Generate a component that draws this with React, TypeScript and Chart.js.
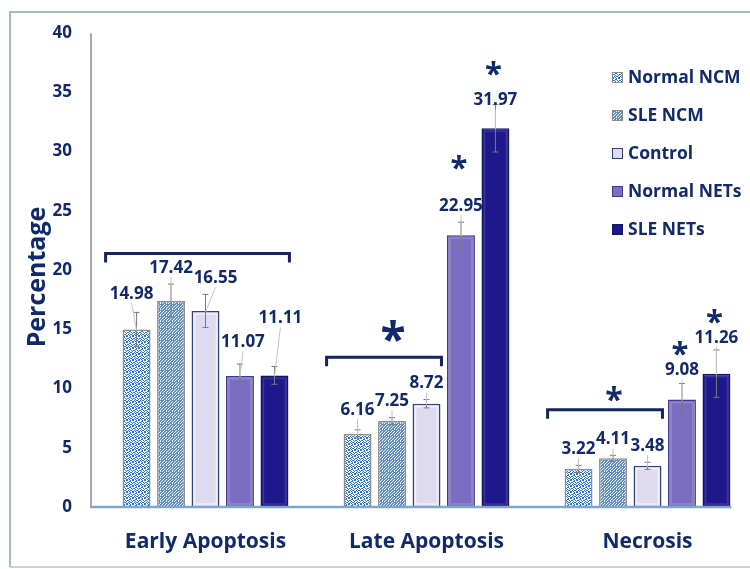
import React, { useEffect, useRef } from "react";
import { Chart, registerables } from "chart.js";

Chart.register(...registerables);

// ---- data ----
const categories = ["Early Apoptosis", "Late Apoptosis", "Necrosis"];
const seriesNames = ["Normal NCM", "SLE NCM", "Control", "Normal NETs", "SLE NETs"];

const normalNcm = [14.98, 6.16, 3.22];
const sleNcm = [17.42, 7.25, 4.11];
const control = [16.55, 8.72, 3.48];
const normalNets = [11.07, 22.95, 9.08];
const sleNets = [11.11, 31.97, 11.26];

const normalNcmErr = [1.45, 0.35, 0.3];
const sleNcmErr = [1.4, 0.3, 0.25];
const controlErr = [1.4, 0.35, 0.3];
const normalNetsErr = [1.0, 1.1, 1.35];
const sleNetsErr = [0.75, 2.0, 2.0];

const yMin = 0;
const yMax = 40;
const yStep = 5;

// significance brackets over groups of bars (level in percentage units)
const groupBrackets = [
  { category: 0, first: 0, last: 4, level: 21.4, starLevel: null as number | null },
  { category: 1, first: 0, last: 2, level: 12.65, starLevel: 14.9 },
  { category: 2, first: 0, last: 2, level: 8.2, starLevel: 9.6 },
];

// single significance stars above bars
const barStars = [
  { category: 1, series: 3, level: 29.2 },
  { category: 1, series: 4, level: 37.2 },
  { category: 2, series: 3, level: 13.5 },
  { category: 2, series: 4, level: 16.2 },
];

// ---- styling ----
const NAVY = "#12296b";
const FONT = "'Open Sans', 'Noto Sans', sans-serif";

// small nudges of value labels so neighbours do not collide: "series:category" -> [dx, dy]
const labelNudge: Record<string, [number, number]> = {
  "0:0": [-5, -2],
  "2:0": [10, 0],
  "3:0": [3, -6],
  "4:0": [6, -32],
  "0:1": [0, -4],
  "4:1": [0, 12],
  "3:2": [0, 3],
  "4:2": [0, 4],
};

function makeTile(bg: string, fg: string, rows: string[]): CanvasPattern | string {
  const size = rows.length;
  const c = document.createElement("canvas");
  c.width = size;
  c.height = size;
  const g = c.getContext("2d");
  if (!g) return bg;
  g.fillStyle = bg;
  g.fillRect(0, 0, size, size);
  g.fillStyle = fg;
  rows.forEach((row, y) => {
    for (let x = 0; x < row.length; x++) {
      if (row[x] === "#") g.fillRect(x, y, 1, 1);
    }
  });
  return g.createPattern(c, "repeat") || bg;
}

export default function App() {
  const ref = useRef<HTMLCanvasElement | null>(null);

  useEffect(() => {
    const canvas = ref.current;
    if (!canvas) return;

    const ncmPattern = makeTile("#f3f7fd", "#2f72c6", [
      "##..#.",
      "...##.",
      ".##..#",
      "#..#..",
      "..#.##",
      "##.#..",
    ]);
    const sleNcmPattern = makeTile("#5f8bc6", "#eef3fb", [
      "#..#..",
      "..#..#",
      ".#..#.",
      "#...#.",
      "..#...",
      ".#..#.",
    ]);

    const values = [normalNcm, sleNcm, control, normalNets, sleNets];
    const errors = [normalNcmErr, sleNcmErr, controlErr, normalNetsErr, sleNetsErr];
    const fills = [ncmPattern, sleNcmPattern, "#dedbf0", "#7a6dc2", "#1f188c"];
    const borders = ["#8d8d8d", "#8d8d8d", "#34427c", "#3d3a8e", "#141660"];
    const sheens = ["rgba(255,255,255,0)", "rgba(255,255,255,0)", "rgba(255,255,255,0.55)", "rgba(255,255,255,0.18)", "rgba(255,255,255,0.12)"];

    const decorations = {
      id: "decorations",
      beforeDraw(chart: any) {
        const ctx = chart.ctx;
        ctx.save();
        // outer frame
        ctx.strokeStyle = "#a8b8cd";
        ctx.lineWidth = 2;
        ctx.beginPath();
        ctx.moveTo(10, 567);
        ctx.lineTo(10, 12);
        ctx.lineTo(chart.width, 12);
        ctx.stroke();
        ctx.strokeStyle = "#cfcfcf";
        ctx.beginPath();
        ctx.moveTo(10, 567);
        ctx.lineTo(chart.width, 567);
        ctx.stroke();

        // axis title
        ctx.fillStyle = NAVY;
        ctx.font = `bold 25px ${FONT}`;
        ctx.textAlign = "center";
        ctx.textBaseline = "middle";
        ctx.translate(38, 277);
        ctx.rotate(-Math.PI / 2);
        ctx.fillText("Percentage", 0, 0);
        ctx.restore();
      },
      afterDatasetsDraw(chart: any) {
        const ctx = chart.ctx;
        const y = chart.scales.y;
        const area = chart.chartArea;
        ctx.save();

        // soft bevel highlight inside the solid bars
        values.forEach((_, si) => {
          const meta = chart.getDatasetMeta(si);
          meta.data.forEach((bar: any) => {
            const h = bar.base - bar.y;
            if (h < 8) return;
            ctx.strokeStyle = sheens[si];
            ctx.lineWidth = 1.5;
            ctx.strokeRect(bar.x - bar.width / 2 + 3, bar.y + 3, bar.width - 6, h - 6);
          });
        });

        // axis lines
        ctx.strokeStyle = "#8a8a8a";
        ctx.lineWidth = 1.5;
        ctx.beginPath();
        ctx.moveTo(area.left - 4, area.top);
        ctx.lineTo(area.left - 4, area.bottom);
        ctx.stroke();
        ctx.strokeStyle = "#7fa6c8";
        ctx.lineWidth = 2.5;
        ctx.beginPath();
        ctx.moveTo(area.left - 5, area.bottom);
        const lastMeta = chart.getDatasetMeta(values.length - 1);
        const lastBar = lastMeta.data[categories.length - 1];
        ctx.lineTo(lastBar.x + lastBar.width / 2 + 1, area.bottom);
        ctx.stroke();

        values.forEach((series, si) => {
          const meta = chart.getDatasetMeta(si);
          meta.data.forEach((bar: any, ci: number) => {
            const v = series[ci];
            const e = errors[si][ci];
            const top = y.getPixelForValue(v + e);
            const bot = y.getPixelForValue(v - e);
            // error bar
            ctx.strokeStyle = "#7a7a7a";
            ctx.lineWidth = 1;
            ctx.beginPath();
            ctx.moveTo(bar.x, top);
            ctx.lineTo(bar.x, bot);
            ctx.moveTo(bar.x - 3, top);
            ctx.lineTo(bar.x + 3, top);
            ctx.moveTo(bar.x - 3, bot);
            ctx.lineTo(bar.x + 3, bot);
            ctx.stroke();

            // value label with leader line
            const nudge = labelNudge[`${si}:${ci}`] || [0, 0];
            const lx = bar.x + nudge[0];
            const ly = top - 16 + nudge[1];
            ctx.strokeStyle = "#c4c4c4";
            ctx.lineWidth = 1;
            ctx.beginPath();
            ctx.moveTo(lx, ly + 9);
            ctx.lineTo(bar.x, bar.y + 1);
            ctx.stroke();
            ctx.fillStyle = NAVY;
            ctx.font = `bold 17px ${FONT}`;
            ctx.textAlign = "center";
            ctx.textBaseline = "middle";
            ctx.fillText(v.toFixed(2), lx, ly);
          });
        });
        ctx.restore();
      },
      afterDraw(chart: any) {
        const ctx = chart.ctx;
        const y = chart.scales.y;
        ctx.save();

        const star = (x: number, cy: number, size: number) => {
          ctx.font = `bold ${size}px ${FONT}`;
          ctx.textAlign = "center";
          ctx.textBaseline = "alphabetic";
          ctx.fillStyle = NAVY;
          ctx.fillText("*", x, cy + size * 0.56);
        };

        groupBrackets.forEach((b) => {
          const a = chart.getDatasetMeta(b.first).data[b.category];
          const z = chart.getDatasetMeta(b.last).data[b.category];
          const x0 = a.x - a.width / 2 - 17;
          const x1 = z.x + z.width / 2 + 1;
          const by = y.getPixelForValue(b.level);
          ctx.strokeStyle = "#15245f";
          ctx.lineWidth = 3;
          ctx.lineJoin = "miter";
          ctx.beginPath();
          ctx.moveTo(x0, by + 9);
          ctx.lineTo(x0, by);
          ctx.lineTo(x1, by);
          ctx.lineTo(x1, by + 9);
          ctx.stroke();
          if (b.starLevel !== null) {
            const size = b.category === 1 ? 46 : 32;
            star((x0 + x1) / 2 + 9, y.getPixelForValue(b.starLevel), size);
          }
        });

        barStars.forEach((s) => {
          const bar = chart.getDatasetMeta(s.series).data[s.category];
          star(bar.x - 2, y.getPixelForValue(s.level), 31);
        });

        // legend
        const lx = 612;
        const ly = 78;
        const gap = 38;
        seriesNames.forEach((name, i) => {
          const cy = ly + i * gap;
          ctx.fillStyle = fills[i] as any;
          ctx.fillRect(lx, cy - 6, 11, 11);
          ctx.strokeStyle = borders[i];
          ctx.lineWidth = 1;
          ctx.strokeRect(lx + 0.5, cy - 5.5, 10, 10);
          ctx.fillStyle = NAVY;
          ctx.font = `bold 17.5px ${FONT}`;
          ctx.textAlign = "left";
          ctx.textBaseline = "middle";
          ctx.fillText(name, lx + 16, cy);
        });
        ctx.restore();
      },
    };

    const chart = new Chart(canvas, {
      type: "bar",
      data: {
        labels: categories,
        datasets: seriesNames.map((name, i) => ({
          label: name,
          data: values[i],
          backgroundColor: fills[i] as any,
          borderColor: borders[i],
          borderWidth: 1.5,
          categoryPercentage: 0.78,
          barPercentage: 0.81,
        })),
      },
      options: {
        animation: false,
        responsive: false,
        layout: { padding: { top: 33, left: 0, right: 0, bottom: 0 } },
        plugins: { legend: { display: false }, tooltip: { enabled: false } },
        scales: {
          x: {
            grid: { display: false, drawTicks: false },
            border: { display: false },
            ticks: {
              color: NAVY,
              font: { family: FONT, size: 21, weight: "bold" },
              padding: 22,
            },
            afterFit: (s: any) => {
              s.height = 62;
            },
          },
          y: {
            min: yMin,
            max: yMax,
            grid: { display: false, drawTicks: false },
            border: { display: false },
            ticks: {
              stepSize: yStep,
              color: NAVY,
              font: { family: FONT, size: 17, weight: "bold" },
              padding: 23,
            },
            afterFit: (s: any) => {
              s.width = 95;
            },
          },
        },
      },
      plugins: [decorations],
    });

    return () => chart.destroy();
  }, []);

  return (
    <div
      style={{
        position: "fixed",
        left: 0,
        top: 0,
        width: 750,
        height: 569,
        overflow: "hidden",
        background: "#ffffff",
      }}
    >
      <canvas ref={ref} width={758} height={569} style={{ width: 758, height: 569, display: "block" }} />
    </div>
  );
}
